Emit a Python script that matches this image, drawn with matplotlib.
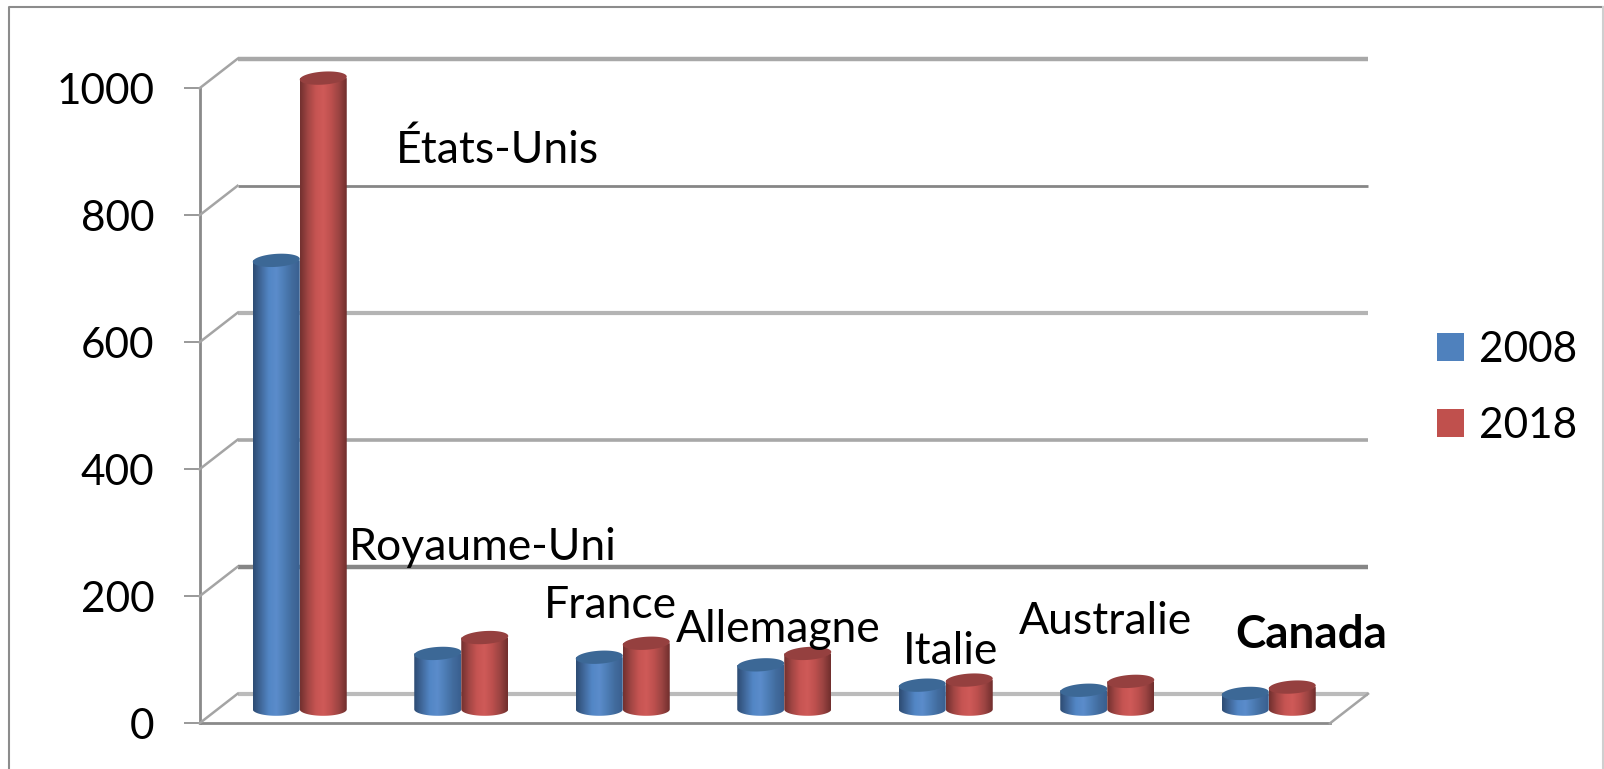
import numpy as np
import matplotlib
matplotlib.use("Agg")
import matplotlib.pyplot as plt
from matplotlib.lines import Line2D
from matplotlib.patches import Polygon, Patch
from matplotlib.colors import LinearSegmentedColormap
from matplotlib.transforms import Affine2D

plt.rcParams['font.family'] = ['Lato', 'DejaVu Sans']

# values
countries = ["États-Unis", "Royaume-Uni", "France", "Allemagne", "Italie", "Australie", "Canada"]
values_2008 = [707, 88, 82, 70, 38, 30, 25]
values_2018 = [994, 113, 104, 88, 46, 44, 35]
series_names = ["2008", "2018"]
y_ticks = [0, 200, 400, 600, 800, 1000]

# label anchors in pixels from top left (free text boxes in the original)
label_x = [497, 483, 610, 778, 951, 1105, 1311]
label_base = [163, 560, 618, 642, 664, 634, 648]

W, H = 1604, 769
fig = plt.figure(figsize=(W / 100, H / 100), dpi=100)
ax = fig.add_axes([199.5 / W, 1 - 723.3 / H, (1330 - 199.5) / W, (723.3 - 88.3) / H])
ax.set_xlim(0, 7)
ax.set_ylim(0, 1000)
ax.patch.set_alpha(0)

px_x = (1330 - 199.5) / 7
px_y = (723.3 - 88.3) / 1000

# 3d wall: everything on the wall is shifted back, the bars sit half way
wall = ax.transData + Affine2D().translate(38, 29.5)
mid = ax.transData + Affine2D().translate(19.5, 14)

grid_cols = ['#bbbbbb', '#868686', '#a8a8a8', '#b4b4b4', '#868686', '#a8a8a8']
grid_lw = [3.0, 3.2, 2.6, 3.0, 2.0, 3.2]
for v, c, lw in zip(y_ticks, grid_cols, grid_lw):
    ax.plot([0, 7], [v, v], transform=wall, color=c, lw=lw, zorder=1, clip_on=False,
            solid_capstyle='butt')
    # slanted piece from the front axis to the wall
    x0, y0 = ax.transData.transform((0, v))
    fig.add_artist(Line2D([x0 / W, (x0 + 38) / W], [y0 / H, (y0 + 29.5) / H], color='#a4a4a4',
                          lw=1.8, zorder=1))
x0, y0 = ax.transData.transform((7, 0))
fig.add_artist(Line2D([x0 / W, (x0 + 38) / W], [y0 / H, (y0 + 29.5) / H], color='#a4a4a4', lw=1.8, zorder=1))

blue_map = LinearSegmentedColormap.from_list('b', ['#2e4d75', '#41699c', '#5286c5', '#5b8ccb', '#4d7db6', '#426c9e', '#3a6090'])
red_map = LinearSegmentedColormap.from_list('r', ['#743130', '#a24644', '#c65452', '#cf5a58', '#bd504e', '#9c4442', '#722f2e'])
top_cols = ['#3c6896', '#95403f']
bar_w = 47 / px_x


def cylinder(xc, val, cmap, top_col):
    # half height of the end ellipses, tilted a little like the original
    hh = 6.5 / px_y
    t = np.linspace(0, np.pi, 60)
    xs = xc + np.cos(t) * bar_w / 2
    low = np.sin(t) * hh
    outline = np.concatenate([
        np.column_stack([xs, -low]),
        np.column_stack([xs[::-1], np.full(60, val)]),
    ])
    body = Polygon(outline, closed=True, transform=mid, fc='none', ec='none')
    ax.add_patch(body)
    im = ax.imshow(np.linspace(0, 1, 48)[None, :], cmap=cmap, aspect='auto', zorder=3,
                   extent=[xc - bar_w / 2, xc + bar_w / 2, -hh, val], transform=mid,
                   interpolation='bilinear')
    # the tall bar rises past the top of the front axes
    im.set_clip_box(fig.bbox)
    im.set_clip_path(body)
    t2 = np.linspace(0, 2 * np.pi, 80)
    tx = xc + np.cos(t2) * bar_w / 2
    ty = val + np.sin(t2) * hh + np.cos(t2) * 1.5 / px_y
    ax.add_patch(Polygon(np.column_stack([tx, ty]), closed=True, transform=mid, fc=top_col,
                         ec='none', zorder=3, clip_on=False))


for i, (a, b) in enumerate(zip(values_2008, values_2018)):
    xc = i + 0.5
    cylinder(xc - bar_w / 2, a, blue_map, top_cols[0])
    cylinder(xc + bar_w / 2, b, red_map, top_cols[1])
ax.set_xlim(0, 7)
ax.set_ylim(0, 1000)

for s in ['top', 'right']:
    ax.spines[s].set_visible(False)
for s in ['left', 'bottom']:
    ax.spines[s].set_color('#8a8a8a')
    ax.spines[s].set_linewidth(2)
ax.set_xticks([])
ax.set_yticks(y_ticks)
ax.tick_params(axis='y', length=11.5, width=1.4, color='#999999', pad=21, labelsize=30.5)

for name, x, y in zip(countries, label_x, label_base):
    bold = name == "Canada"
    fig.text(x / W, 1 - y / H, name, fontsize=33 if bold else 32, ha='center', va='baseline', color='black',
             fontweight='bold' if bold else 'normal')

handles = [Patch(fc='#4f81bd', ec='none'), Patch(fc='#c0504d', ec='none')]
fig.legend(handles, series_names, loc='center left', bbox_to_anchor=(1399 / W, 1 - 388 / H), frameon=False,
           fontsize=30.5, handlelength=0.64, handleheight=0.64, handletextpad=0.36, labelspacing=0.9)

# outer frame of the picture
fig.add_artist(Line2D([8.5 / W, 8.5 / W, 1603 / W], [0, 1 - 6.5 / H, 1 - 6.5 / H], color='#8c8c8c', lw=1.5))
fig.add_artist(Line2D([1603 / W, 1603 / W], [0, 1 - 6.5 / H], color='#cfcfcf', lw=1.5))

fig.savefig("out.png", dpi=100)
